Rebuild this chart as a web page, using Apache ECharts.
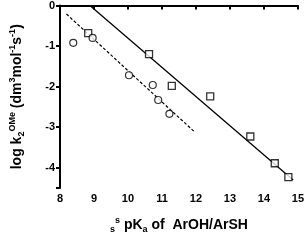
<!DOCTYPE html>
<html><head><meta charset="utf-8">
<script src="https://cdn.jsdelivr.net/npm/echarts@6/dist/echarts.min.js"></script>
<style>html,body{margin:0;padding:0;background:#fff}#c{width:307px;height:242px}</style>
</head><body><div id="c"></div>
<script>
var squaresX = [8.83, 10.62, 11.29, 12.42, 13.60, 14.32, 14.72];
var squaresY = [-0.68, -1.20, -1.98, -2.24, -3.23, -3.89, -4.23];
var circlesX = [8.39, 8.96, 10.03, 10.73, 10.89, 11.22];
var circlesY = [-0.92, -0.80, -1.72, -1.96, -2.33, -2.67];
var solidLineX = [8.88, 14.86];
var solidLineY = [0.0, -4.30];
var dashLineX = [8.19, 11.95];
var dashLineY = [-0.21, -3.11];
var xTicks = [8, 9, 10, 11, 12, 13, 14, 15];
var yTicks = [0, -1, -2, -3, -4];

function pairs(xs, ys){ return xs.map(function(x,i){return [x, ys[i]];}); }
var F = 'Liberation Sans, Arial, sans-serif';
var richStyles = {
  b:{fontFamily:F, fontWeight:'bold', fontSize:14, color:'#000'},
  a:{fontFamily:F, fontWeight:'bold', fontSize:9, color:'#000', verticalAlign:'top', padding:[0,0,9,0]},
  s:{fontFamily:F, fontWeight:'bold', fontSize:9, color:'#000', verticalAlign:'bottom', padding:[7,0,0,0]}
};
var chart = echarts.init(document.getElementById('c'), null, {renderer:'canvas'});
chart.setOption({
  animation:false,
  grid:{left:53, top:4, right:7, bottom:54, containLabel:false},
  xAxis:{type:'value', min:8, max:15, interval:1,
    axisLine:{lineStyle:{color:'#000', width:2}},
    axisTick:{length:4, lineStyle:{color:'#000', width:2}},
    splitLine:{show:false},
    axisLabel:{color:'#000', fontFamily:F, fontWeight:'bold', fontSize:11, margin:5,
      customValues: xTicks},
    name:'{s|s}{a|s}{b| pK}{s|a}{b| of  ArOH/ArSH}', nameLocation:'middle', nameGap:28,
    nameTextStyle:{rich:richStyles}
  },
  yAxis:{type:'value', min:-4.5, max:0,
    axisLine:{lineStyle:{color:'#000', width:2}},
    axisTick:{length:4, lineStyle:{color:'#000', width:2}, customValues: yTicks.concat([-4.5])},
    splitLine:{show:false},
    axisLabel:{color:'#000', fontFamily:F, fontWeight:'bold', fontSize:11, margin:5,
      customValues: yTicks, formatter:function(v){return String(v);}},
    name:'{b|log k}{s|2}{a|OMe}{b| (dm}{a|3}{b|mol}{a|-1}{b|s}{a|-1}{b|)}', nameLocation:'middle', nameRotate:90, nameGap:34,
    nameTextStyle:{rich:richStyles}
  },
  series:[
    {type:'line', data:pairs(solidLineX, solidLineY), symbol:'none', lineStyle:{color:'#000', width:1.3}, z:2},
    {type:'line', data:pairs(dashLineX, dashLineY), symbol:'none', lineStyle:{color:'#000', width:1.2, type:[3,2]}, z:2},
    {type:'scatter', data:pairs(squaresX, squaresY), symbol:'rect', symbolSize:7,
      itemStyle:{color:'#fff', borderColor:'#000', borderWidth:1.3}, z:3},
    {type:'scatter', data:pairs(circlesX, circlesY), symbol:'circle', symbolSize:7,
      itemStyle:{color:'#fff', borderColor:'#000', borderWidth:1.2}, z:3}
  ]
});
</script></body></html>
